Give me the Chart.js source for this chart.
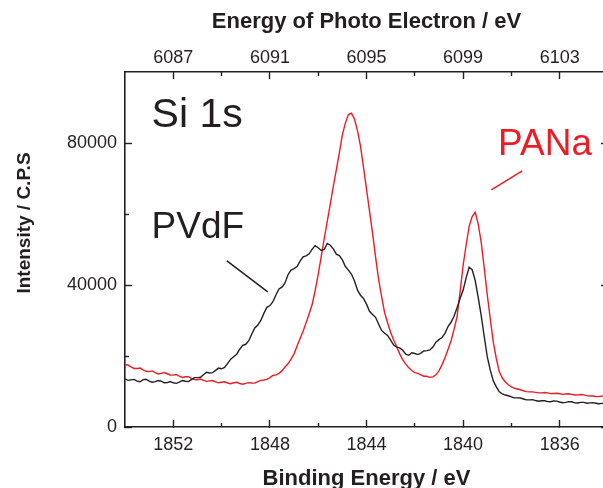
<!DOCTYPE html>
<html>
<head>
<meta charset="utf-8">
<script src="https://cdn.jsdelivr.net/npm/chart.js@4.4.1/dist/chart.umd.min.js"></script>
<style>
  html, body { margin: 0; padding: 0; background: #fff; overflow: hidden; }
  #wrap { width: 603px; height: 488px; overflow: hidden; }
</style>
</head>
<body>
<div id="wrap"><canvas id="xps_chart" width="615" height="496"></canvas></div>
<script>
// binding energy grid (eV), every 0.125 eV
var energies = [
  1854, 1853.875, 1853.75, 1853.625, 1853.5, 1853.375, 1853.25, 1853.125,
  1853, 1852.875, 1852.75, 1852.625, 1852.5, 1852.375, 1852.25, 1852.125,
  1852, 1851.875, 1851.75, 1851.625, 1851.5, 1851.375, 1851.25, 1851.125,
  1851, 1850.875, 1850.75, 1850.625, 1850.5, 1850.375, 1850.25, 1850.125,
  1850, 1849.875, 1849.75, 1849.625, 1849.5, 1849.375, 1849.25, 1849.125,
  1849, 1848.875, 1848.75, 1848.625, 1848.5, 1848.375, 1848.25, 1848.125,
  1848, 1847.875, 1847.75, 1847.625, 1847.5, 1847.375, 1847.25, 1847.125,
  1847, 1846.875, 1846.75, 1846.625, 1846.5, 1846.375, 1846.25, 1846.125,
  1846, 1845.875, 1845.75, 1845.625, 1845.5, 1845.375, 1845.25, 1845.125,
  1845, 1844.875, 1844.75, 1844.625, 1844.5, 1844.375, 1844.25, 1844.125,
  1844, 1843.875, 1843.75, 1843.625, 1843.5, 1843.375, 1843.25, 1843.125,
  1843, 1842.875, 1842.75, 1842.625, 1842.5, 1842.375, 1842.25, 1842.125,
  1842, 1841.875, 1841.75, 1841.625, 1841.5, 1841.375, 1841.25, 1841.125,
  1841, 1840.875, 1840.75, 1840.625, 1840.5, 1840.375, 1840.25, 1840.125,
  1840, 1839.875, 1839.75, 1839.625, 1839.5, 1839.375, 1839.25, 1839.125,
  1839, 1838.875, 1838.75, 1838.625, 1838.5, 1838.375, 1838.25, 1838.125,
  1838, 1837.875, 1837.75, 1837.625, 1837.5, 1837.375, 1837.25, 1837.125,
  1837, 1836.875, 1836.75, 1836.625, 1836.5, 1836.375, 1836.25, 1836.125,
  1836, 1835.875, 1835.75, 1835.625, 1835.5, 1835.375, 1835.25, 1835.125,
  1835, 1834.875, 1834.75, 1834.625, 1834.5, 1834.375, 1834.25, 1834.125,
  1834
];

// PVdF binder (black)
var pvdf = [
  13570, 13150, 13290, 13400, 12900, 12750, 13350, 13450, 12950, 12600,
  12800, 13100, 12900, 12450, 12500, 12800, 12450, 12300, 12650, 13100,
  12900, 12800, 13350, 13900, 13900, 14000, 14700, 15400, 15200, 15300,
  15950, 16600, 16400, 16800, 17900, 19100, 19800, 20500, 21900, 23000,
  23300, 24300, 26200, 27900, 28700, 30000, 32000, 33700, 34200, 35300,
  37200, 38900, 39400, 40600, 42900, 44200, 44600, 45200, 46700, 47900,
  48200, 48800, 50100, 51100, 50500, 49700, 50000, 51700, 51200, 50200,
  48700, 48300, 47100, 45200, 44200, 43100, 41200, 38600, 37100, 36200,
  34600, 32600, 31700, 30900, 29000, 27200, 26400, 25800, 24500, 23100,
  22500, 22300, 21600, 20500, 20200, 20900, 20700, 20400, 20800, 21400,
  21500, 21700, 22500, 23900, 24600, 25200, 26400, 28300, 29500, 31200,
  33600, 36200, 38500, 42000, 45000, 44300, 41300, 36500, 31400, 25500,
  19800, 16000, 13000, 11300, 9900, 9300, 9000, 8800, 8500, 8200,
  8200, 8150, 7900, 7650, 7650, 7700, 7450, 7250, 7400, 7400,
  7150, 7100, 7350, 7300, 7050, 6850, 6950, 7150, 7100, 6800,
  6750, 6950, 6950, 6700, 6800, 6850, 6700, 6550, 6650, 6750,
  6800
];

// PANa binder (red)
var pana = [
  17530, 17450, 16900, 16500, 16500, 16600, 16100, 15700, 15600, 15800,
  15300, 14950, 15100, 15350, 15000, 14650, 14600, 14800, 14300, 13950,
  14150, 14200, 13700, 13350, 13300, 13500, 13150, 12850, 13000, 13100,
  12700, 12450, 12600, 12750, 12400, 12200, 12450, 12600, 12250, 12050,
  12300, 12500, 12400, 12350, 12750, 13150, 13250, 13400, 13900, 14500,
  14700, 15100, 15800, 16900, 17800, 19100, 20600, 22800, 24900, 27000,
  29400, 31900, 34500, 38500, 43000, 48000, 53100, 57900, 62800, 67700,
  72400, 77200, 82300, 85600, 88000, 88400, 86800, 83500, 79200, 73200,
  67000, 60800, 54600, 47900, 41600, 36700, 32200, 29300, 26600, 24500,
  22600, 20600, 18900, 17700, 16700, 15900, 15300, 15100, 14700, 14300,
  14300, 14000, 14100, 14700, 15800, 17500, 19500, 21800, 24300, 27500,
  31100, 38000, 45500, 51200, 56500, 59300, 60500, 57200, 52000, 44800,
  37300, 30500, 23900, 19300, 15550, 13800, 12700, 11900, 11300, 10900,
  10700, 10500, 10200, 9950, 9900, 9900, 9750, 9600, 9600, 9700,
  9600, 9400, 9450, 9500, 9350, 9200, 9300, 9350, 9200, 9000,
  9050, 9150, 9050, 8850, 8750, 8750, 8600, 8550, 8750, 8700,
  8500
];

var bindingTicks = [1852, 1848, 1844, 1840, 1836];
var bindingMinor = [1850, 1846, 1842, 1838];
var photoTicks = [6087, 6091, 6095, 6099, 6103];
var intensityTicks = [0, 40000, 80000];
var intensityMinor = [20000, 60000];

var INK = '#231f20';
var RED = '#ed1c24';
var FONT = "'Liberation Sans', Arial, Helvetica, sans-serif";

function points(ys) {
  return energies.map(function(e, i) { return { x: e, y: ys[i] }; });
}

function setTicks(values) {
  return function(scale) {
    scale.ticks = values.map(function(v) { return { value: v }; });
  };
}

function fixWidth(w) { return function(scale) { scale.width = w; }; }
function fixHeight(h) { return function(scale) { scale.height = h; }; }

// negative tick length = ticks pointing into the plot
function tickGrid(len) {
  return { drawOnChartArea: false, tickLength: len, tickColor: INK, tickWidth: 1.4 };
}

var tickFont = { family: FONT, size: 18 };
var titleFont = { family: FONT, size: 22, weight: 'bold' };

var xBase = { type: 'linear', reverse: true, min: 1834, max: 1854 };
var yBase = { type: 'linear', min: 0, max: 100000 };

function merge(a, b) { return Object.assign({}, a, b); }

// text labels and leader lines, placed in data coordinates
var notes = [
  { text: 'Si 1s', e: 1852.9, v: 84500, size: 41, color: INK },
  { text: 'PVdF', e: 1852.9, v: 53300, size: 37, color: INK },
  { text: 'PANa', e: 1838.55, v: 76700, size: 37, color: RED }
];
var leaders = [
  { e1: 1849.78, v1: 46800, e2: 1848.09, v2: 38060, color: INK },
  { e1: 1837.55, v1: 72170, e2: 1838.83, v2: 66810, color: RED }
];

var notesPlugin = {
  id: 'notes',
  afterDatasetsDraw: function(chart) {
    var ctx = chart.ctx;
    var xs = chart.scales.x, ys = chart.scales.y;
    ctx.save();
    notes.forEach(function(n) {
      ctx.font = n.size + 'px ' + FONT;
      ctx.fillStyle = n.color;
      ctx.textAlign = 'left';
      ctx.textBaseline = 'alphabetic';
      ctx.fillText(n.text, xs.getPixelForValue(n.e), ys.getPixelForValue(n.v));
    });
    leaders.forEach(function(l) {
      ctx.strokeStyle = l.color;
      ctx.lineWidth = 1.5;
      ctx.beginPath();
      ctx.moveTo(xs.getPixelForValue(l.e1), ys.getPixelForValue(l.v1));
      ctx.lineTo(xs.getPixelForValue(l.e2), ys.getPixelForValue(l.v2));
      ctx.stroke();
    });
    // y axis title sits a bit above the middle of the axis
    ctx.translate(25, 223);
    ctx.rotate(-Math.PI / 2);
    ctx.font = 'bold 19px ' + FONT;
    ctx.fillStyle = INK;
    ctx.textAlign = 'center';
    ctx.textBaseline = 'middle';
    ctx.fillText('Intensity / C.P.S', 0, 0);
    ctx.restore();
  }
};

var config = {
  type: 'line',
  data: {
    datasets: [{
      label: 'PVdF',
      data: points(pvdf),
      borderColor: INK,
      borderWidth: 1.4,
      pointRadius: 0,
      tension: 0
    }, {
      label: 'PANa',
      data: points(pana),
      borderColor: RED,
      borderWidth: 1.4,
      pointRadius: 0,
      tension: 0
    }]
  },
  options: {
    responsive: false,
    animation: false,
    layout: { padding: 0 },
    plugins: {
      legend: { display: false },
      tooltip: { enabled: false }
    },
    scales: {
      x: merge(xBase, {
        position: 'bottom', weight: 1,
        afterBuildTicks: setTicks(bindingTicks),
        afterFit: fixHeight(69),
        border: { color: INK, width: 1.6 },
        grid: tickGrid(-7),
        ticks: { font: tickFont, color: INK, padding: 14, maxRotation: 0, autoSkip: false,
          callback: function(v) { return String(v); } },
        title: { display: true, text: 'Binding Energy / eV', color: INK, font: titleFont,
          padding: { top: 0, bottom: 4 } }
      }),
      xMinor: merge(xBase, {
        position: 'bottom', weight: 0,
        afterBuildTicks: setTicks(bindingMinor),
        afterFit: fixHeight(0),
        border: { display: false },
        grid: tickGrid(-4),
        ticks: { display: false }
      }),
      xTop: merge(xBase, {
        position: 'top', weight: 1,
        afterBuildTicks: setTicks(bindingTicks),
        afterFit: fixHeight(72),
        border: { color: INK, width: 1.6 },
        grid: tickGrid(-7),
        ticks: { font: tickFont, color: INK, padding: 10, maxRotation: 0, autoSkip: false,
          callback: function(v, i) { return String(photoTicks[i]); } },
        title: { display: true, text: 'Energy of Photo Electron / eV', color: INK, font: titleFont,
          padding: { top: 9, bottom: 0 } }
      }),
      xTopMinor: merge(xBase, {
        position: 'top', weight: 0,
        afterBuildTicks: setTicks(bindingMinor),
        afterFit: fixHeight(0),
        border: { display: false },
        grid: tickGrid(-4),
        ticks: { display: false }
      }),
      y: merge(yBase, {
        position: 'left', weight: 1,
        afterBuildTicks: setTicks(intensityTicks),
        afterFit: fixWidth(125),
        border: { color: INK, width: 1.6 },
        grid: tickGrid(-7),
        ticks: { font: tickFont, color: INK, padding: 15,
          callback: function(v) { return String(v); } }
      }),
      yMinor: merge(yBase, {
        position: 'left', weight: 0,
        afterBuildTicks: setTicks(intensityMinor),
        afterFit: fixWidth(0),
        border: { display: false },
        grid: tickGrid(-4),
        ticks: { display: false }
      }),
      yRight: merge(yBase, {
        position: 'right', weight: 1,
        afterBuildTicks: setTicks(intensityTicks),
        afterFit: fixWidth(7),
        border: { color: INK, width: 1.6 },
        grid: tickGrid(-7),
        ticks: { display: false }
      })
    }
  },
  plugins: [notesPlugin]
};

window.onload = function() {
  var ctx = document.getElementById('xps_chart').getContext('2d');
  var chart = new Chart(ctx, config);
};
</script>
</body>
</html>
